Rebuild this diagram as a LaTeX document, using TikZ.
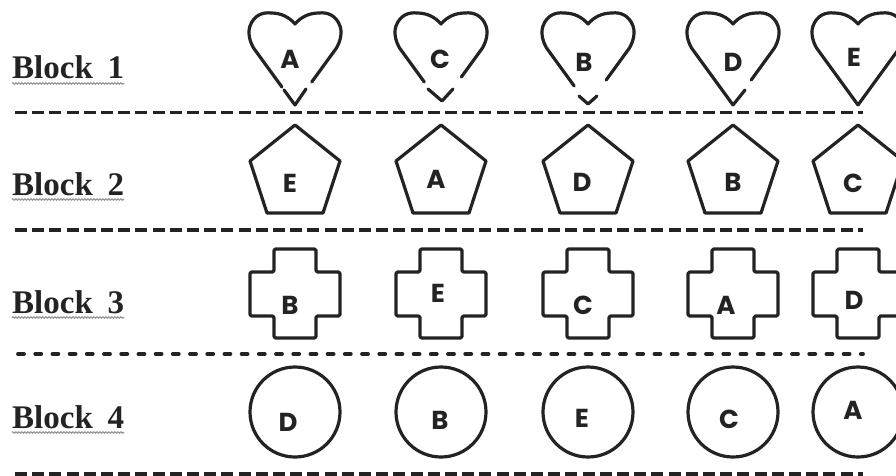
\documentclass[tikz,border=0pt]{standalone}
\usepackage{fontspec}
\usetikzlibrary{decorations.pathmorphing}
\newfontfamily\letterfont{Poppins}
\newfontfamily\labelfont{Liberation Serif}
\definecolor{ink}{RGB}{35,35,35}
\tikzset{
  shp/.style={draw=ink, line width=3.2pt, line join=round, line cap=round},
  sep/.style={draw=ink, line width=3.8pt, dash pattern=on 12pt off 5.2pt},
  sepdot/.style={draw=ink, line width=3.8pt, line cap=round, dash pattern=on 6pt off 11.2pt},
  let/.style={inner sep=0pt, text=ink, font=\letterfont\bfseries\fontsize{26}{28}\selectfont},
  blk/.style={inner sep=0pt, anchor=base west, text=ink, font=\labelfont\bfseries\fontsize{33}{35}\selectfont},
  squig/.style={draw=gray!80, line width=1.2pt, decorate, decoration={snake, segment length=3pt, amplitude=0.7pt}}
}
\newcommand\heartTop[3]{%
  \draw[shp] ({#1-40*(105-#2)/55},#2) -- (#1-40,50)
    .. controls (#1-44,45) and (#1-48,34) .. (#1-45,26)
    .. controls (#1-41,15) and (#1-32,12) .. (#1-24,13)
    .. controls (#1-14,13) and (#1-6,17) .. (#1,24)
    .. controls (#1+6,17) and (#1+14,13) .. (#1+24,13)
    .. controls (#1+32,12) and (#1+41,15) .. (#1+45,26)
    .. controls (#1+48,34) and (#1+44,45) .. (#1+40,50)
    -- ({#1+40*(105-#3)/55},#3);}
\newcommand\pentShape[1]{%
  \draw[shp] (#1,125) -- (#1+45,161) -- (#1+28,213) -- (#1-28,213) -- (#1-45,161) -- cycle;}
\newcommand\crossShape[1]{%
  \draw[shp, rounded corners=1.5pt] (#1-21,249) -- (#1+21,249) -- (#1+21,272) -- (#1+45,272) -- (#1+45,316)
    -- (#1+21,316) -- (#1+21,338) -- (#1-21,338) -- (#1-21,316) -- (#1-45,316)
    -- (#1-45,272) -- (#1-21,272) -- cycle;}
\begin{document}
\begin{tikzpicture}[x=1pt,y=-1pt]
\useasboundingbox (0,0) rectangle (896,476);
% labels
\node[blk] (l1) at (12,79) {Block\hspace{0.45em}1};
\node[blk] (l2) at (12,195) {Block\hspace{0.45em}2};
\node[blk] (l3) at (12,313) {Block\hspace{0.45em}3};
\node[blk] (l4) at (12,428) {Block\hspace{0.45em}4};
\foreach \n in {l1,l2,l3,l4}
  \draw[squig] ([yshift=-4.5pt]\n.base west) -- ([yshift=-4.5pt]\n.base east);
% separators
\draw[sep] (15,112.5) -- (863,112.5);
\draw[sep] (15,230) -- (863,230);
\draw[sepdot] (18,354) -- (863,354);
\draw[sep] (15,474) -- (863,474);
% row 1: hearts
\heartTop{295}{87}{82}
\draw[shp] (284,90) -- (295,105) -- (306,89);
\heartTop{441}{82}{77}
\draw[shp] (428,89) -- (442,101) -- (453,89);
\heartTop{588}{86}{80}
\draw[shp] (579,96) -- (588,104) -- (597,96);
\heartTop{733}{105}{80}
\draw[shp] (733,105) -- (745,90);
\heartTop{858}{105}{105}
\node[let] (h1) at (290,59) {A};
\node[let] (h2) at (440,59) {C};
\node[let] (h3) at (584,62) {B};
\node[let] (h4) at (733,62) {D};
\node[let] (h5) at (854,57) {E};
% row 2: pentagons
\pentShape{295}
\pentShape{441}
\pentShape{588}
\pentShape{733}
\pentShape{858}
\node[let] (p1) at (290,183) {E};
\node[let] (p2) at (436,179) {A};
\node[let] (p3) at (582,182) {D};
\node[let] (p4) at (733,182) {B};
\node[let] (p5) at (853,183) {C};
% row 3: crosses
\crossShape{295}
\crossShape{441}
\crossShape{588}
\crossShape{733}
\crossShape{858}
\node[let] (c1) at (290,305) {B};
\node[let] (c2) at (438,293) {E};
\node[let] (c3) at (583,305) {C};
\node[let] (c4) at (726,305) {A};
\node[let] (c5) at (854,300) {D};
% row 4: circles
\foreach \cx in {295,441,588,733,858}
  \draw[shp] (\cx,412) circle[radius=45];
\node[let] (o1) at (288,422) {D};
\node[let] (o2) at (440,420) {B};
\node[let] (o3) at (582,418) {E};
\node[let] (o4) at (729,419) {C};
\node[let] (o5) at (853,410) {A};
\end{tikzpicture}
\end{document}
